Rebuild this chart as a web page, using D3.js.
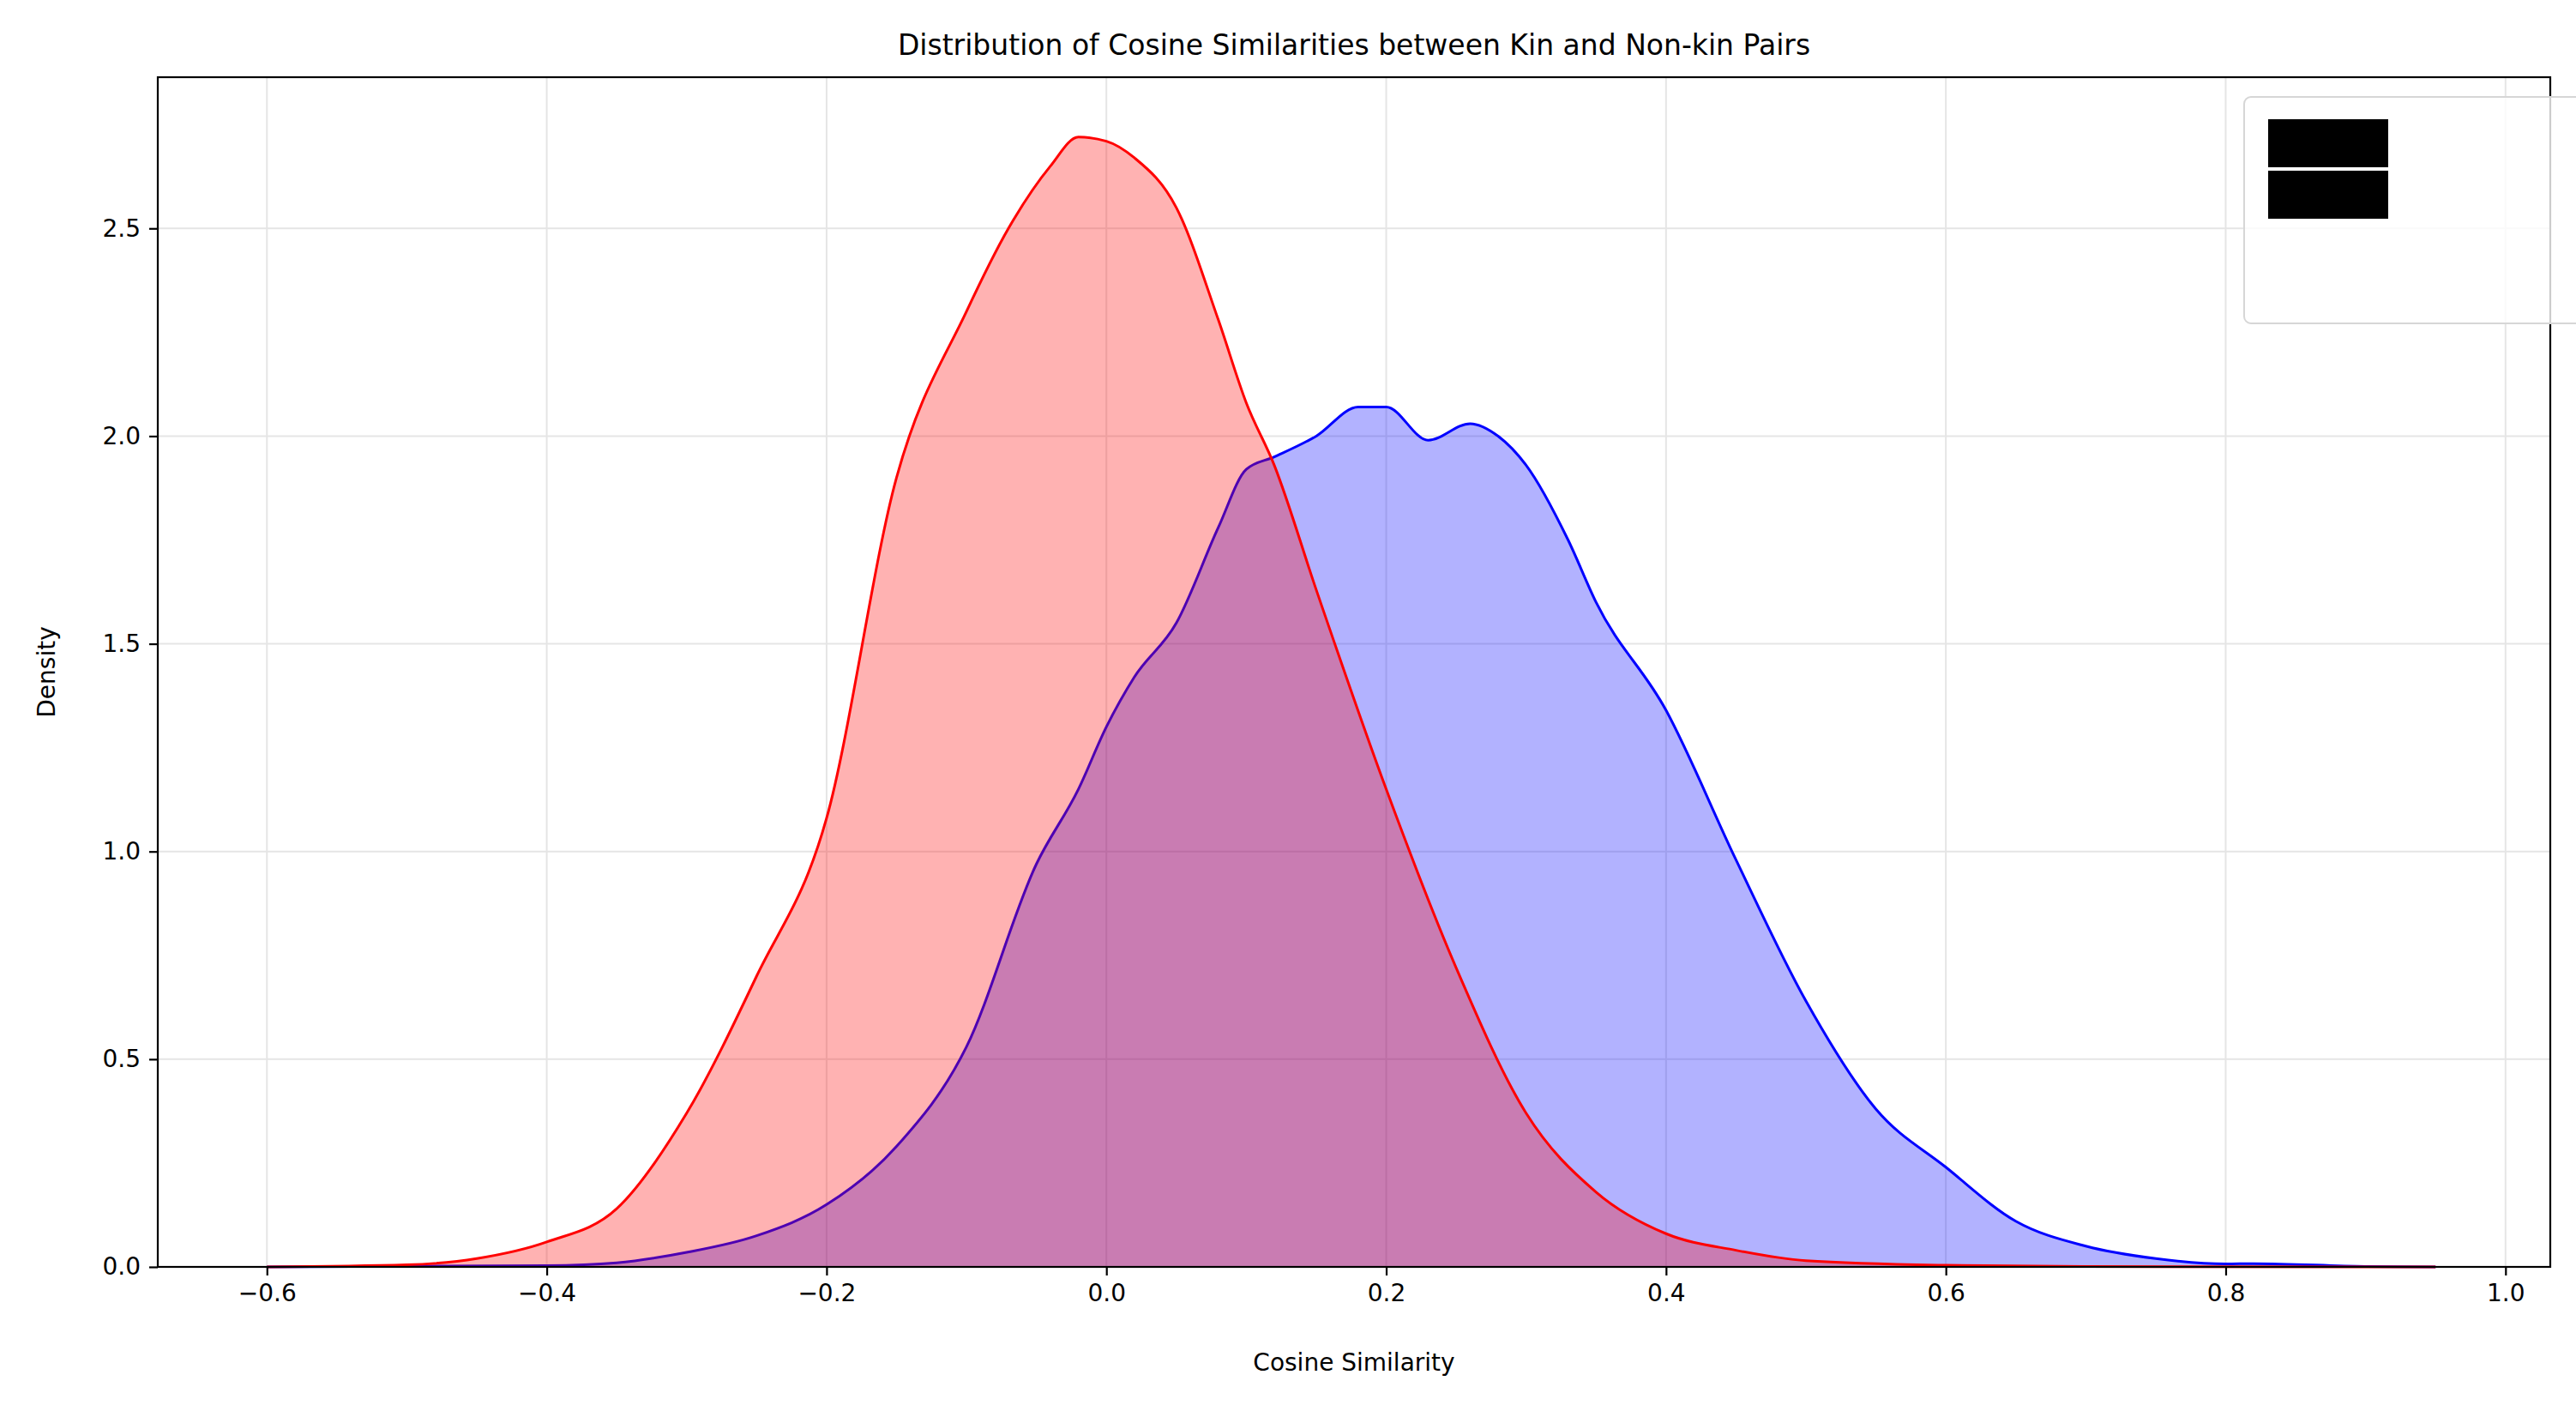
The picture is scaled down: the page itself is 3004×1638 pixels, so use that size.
<!DOCTYPE html><html><head><meta charset="utf-8"><script src="https://cdn.jsdelivr.net/npm/d3@7"></script>
<style>body{margin:0;background:#fff}text{font-family:"DejaVu Sans"}</style></head><body><svg id="c" width="3004" height="1638"></svg><script>
const nonkinX=[-0.6,-0.5,-0.45,-0.4,-0.35,-0.3,-0.25,-0.2,-0.15,-0.1,-0.07,-0.04,-0.02,0,0.02,0.05,0.08,0.1,0.12,0.15,0.2,0.25,0.3,0.35,0.4,0.45,0.5,0.6,0.7,0.95];
const nonkinY=[0,0.005,0.02,0.06,0.14,0.37,0.7,1.08,1.9,2.3,2.5,2.65,2.72,2.71,2.67,2.55,2.28,2.08,1.93,1.63,1.15,0.72,0.37,0.18,0.08,0.04,0.015,0.004,0.001,0];
const kinX=[-0.6,-0.4,-0.35,-0.3,-0.25,-0.2,-0.15,-0.1,-0.05,-0.02,0,0.02,0.05,0.08,0.1,0.12,0.15,0.18,0.2,0.23,0.26,0.28,0.3,0.33,0.35,0.4,0.45,0.5,0.55,0.6,0.65,0.7,0.75,0.8,0.82,0.9,0.95];
const kinY=[0,0.003,0.01,0.035,0.075,0.15,0.29,0.53,0.97,1.15,1.3,1.42,1.55,1.78,1.92,1.95,2.0,2.07,2.07,1.99,2.03,2.0,1.93,1.75,1.6,1.34,0.98,0.64,0.38,0.24,0.11,0.05,0.02,0.007,0.008,0.001,0];
const xTicks=[-0.6,-0.4,-0.2,0.0,0.2,0.4,0.6,0.8,1.0];
const yTicks=[0,0.5,1.0,1.5,2.0,2.5];
const L=184,R=2974,T=90,B=1477;
const svg=d3.select("#c");
const x=d3.scaleLinear().domain([-0.678,1.032]).range([L,R]);
const y=d3.scaleLinear().domain([0,2.864]).range([B,T]);
const g=svg.append("g");
xTicks.forEach(t=>g.append("line").attr("x1",x(t)).attr("x2",x(t)).attr("y1",T).attr("y2",B).attr("stroke","#e5e5e5").attr("stroke-width",2));
yTicks.forEach(t=>g.append("line").attr("x1",L).attr("x2",R).attr("y1",y(t)).attr("y2",y(t)).attr("stroke","#e5e5e5").attr("stroke-width",2));
function draw(xs,ys,col,fill){const d=xs.map((v,i)=>[v,ys[i]]);
svg.append("path").datum(d).attr("d",d3.area().x(p=>x(p[0])).y0(B).y1(p=>y(p[1])).curve(d3.curveMonotoneX)).attr("fill",fill).attr("fill-opacity",0.3);
svg.append("path").datum(d).attr("d",d3.line().x(p=>x(p[0])).y(p=>y(p[1])).curve(d3.curveMonotoneX)).attr("fill","none").attr("stroke",col).attr("stroke-width",3);}
draw(kinX,kinY,"blue","blue");draw(nonkinX,nonkinY,"red","red");
const xa=svg.append("g").attr("transform",`translate(0,${B})`).call(d3.axisBottom(x).tickValues(xTicks).tickFormat(d=>d3.format(".1f")(d).replace("-","\u2212")).tickSize(10).tickPadding(10));
const ya=svg.append("g").attr("transform",`translate(${L},0)`).call(d3.axisLeft(y).tickValues(yTicks).tickFormat(d3.format(".1f")).tickSize(10).tickPadding(10));
[xa,ya].forEach(a=>{a.selectAll("text").attr("font-size",28).attr("fill","#000");a.selectAll("line").attr("stroke-width",2.2);a.select(".domain").remove();});
svg.append("rect").attr("x",L).attr("y",T).attr("width",R-L).attr("height",B-T).attr("fill","none").attr("stroke","#000").attr("stroke-width",2.2);
svg.append("text").attr("x",(L+R)/2).attr("y",64).attr("text-anchor","middle").attr("font-size",33).text("Distribution of Cosine Similarities between Kin and Non-kin Pairs");
svg.append("text").attr("x",(L+R)/2).attr("y",1598).attr("text-anchor","middle").attr("font-size",28).text("Cosine Similarity");
svg.append("text").attr("transform",`translate(64,${(T+B)/2}) rotate(-90)`).attr("text-anchor","middle").attr("font-size",28).text("Density");
const lg=svg.append("g").attr("transform","translate(2617,113)");
lg.append("rect").attr("width",700/1.568*1.568-0).attr("x",0).attr("width",700).attr("height",264).attr("rx",8).attr("fill","#fff").attr("fill-opacity",0.8).attr("stroke","#d6d6d6").attr("stroke-width",2).attr("width",698*0+700/1.568*1);
[["Kin Pairs","blue"],["Non-kin Pairs","red"]].forEach((d,i)=>{
lg.append("rect").attr("x",28).attr("y",26+i*120/1.0*0.5*2*0.5+i*0).attr("width",140).attr("height",56);
});
</script></body></html>
